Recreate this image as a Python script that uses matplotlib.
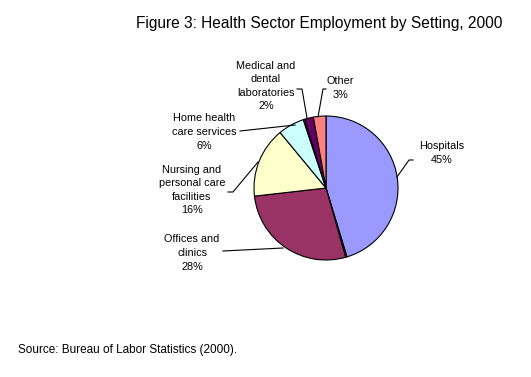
import matplotlib.pyplot as plt

plt.rcParams['font.family'] = ['Liberation Sans', 'DejaVu Sans']

# clockwise from 12 o'clock; the two unnamed slivers are drawn as in the source
settings = ['Hospitals', '', 'Offices and\nclinics', 'Nursing and\npersonal care\nfacilities',
            'Home health\ncare services', '', 'Medical and\ndental\nlaboratories', 'Other']
shares = [45.3, 0.3, 27.6, 15.8, 5.9, 0.3, 2.0, 2.8]
pct_labels = ['45%', '', '28%', '16%', '6%', '', '2%', '3%']
colors = ['#9999FF', '#FFFFFF', '#993366', '#FFFFCC', '#CCFFFF', '#FFFFFF', '#660066', '#FF8080']

H = 377
fig = plt.figure(figsize=(5.31, 3.77), dpi=100)
ax = fig.add_axes([0, 0, 1, 1])

ax.pie(shares, colors=colors, startangle=90, counterclock=False,
       center=(326, H - 188), radius=72,
       wedgeprops=dict(edgecolor='black', linewidth=0.8))
ax.set_xlim(0, 531)
ax.set_ylim(0, H)
ax.set_aspect('equal')
ax.axis('off')

# label text centre and leader line (pixel coords, y from top)
label_pos = {
    0: ((442, 153), [(397, 177), (409, 160), (413, 160)]),
    2: ((192, 253), [(223, 251), (283, 248)]),
    3: ((192, 190), [(228, 192), (233, 192), (258, 162)]),
    4: ((204, 132), [(240, 131), (295, 125)]),
    6: ((266, 86), [(297, 89), (302, 89), (307, 118)]),
    7: ((340, 88), [(326, 89), (323, 89), (318, 117)]),
}
for i, ((tx, ty), line) in label_pos.items():
    ax.text(tx, H - ty, settings[i] + '\n' + pct_labels[i], ha='center', va='center',
            fontsize=7.8, linespacing=1.45)
    ax.plot([p[0] for p in line], [H - p[1] for p in line], color='black', lw=0.8)

ax.text(502, H - 28, 'Figure 3: Health Sector Employment by Setting, 2000',
        ha='right', va='baseline', fontsize=11.2)
ax.text(18, H - 353, 'Source: Bureau of Labor Statistics (2000).',
        ha='left', va='baseline', fontsize=8.5)

fig.savefig('out.png', dpi=100)
